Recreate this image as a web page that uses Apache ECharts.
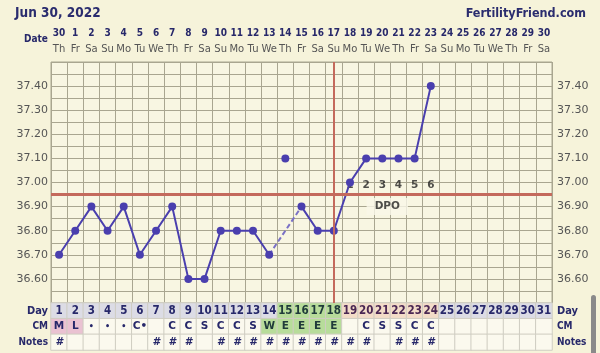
<!DOCTYPE html>
<html>
<head>
<meta charset="utf-8">
<script src="https://cdn.jsdelivr.net/npm/echarts@6/dist/echarts.min.js"></script>
<style>
html,body{margin:0;padding:0;background:#f6f3da;}
#chart{width:600px;height:353px;}
</style>
</head>
<body>
<div id="chart"></div>
<script>
// ---------- data ----------
const dayNumbers = ['1','2','3','4','5','6','7','8','9','10','11','12','13','14','15','16','17','18','19','20','21','22','23','24','25','26','27','28','29','30','31'];
const dateLabels = ['30','1','2','3','4','5','6','7','8','9','10','11','12','13','14','15','16','17','18','19','20','21','22','23','24','25','26','27','28','29','30'];
const weekdayLabels = ['Th','Fr','Sa','Su','Mo','Tu','We','Th','Fr','Sa','Su','Mo','Tu','We','Th','Fr','Sa','Su','Mo','Tu','We','Th','Fr','Sa','Su','Mo','Tu','We','Th','Fr','Sa'];
const temperatures = [36.70,36.80,36.90,36.80,36.90,36.70,36.80,36.90,36.60,36.60,36.80,36.80,36.80,36.70,null,36.90,36.80,36.80,37.00,37.10,37.10,37.10,37.10,37.40,null,null,null,null,null,null,null];
const discardedDay = '15';
const discardedTemp = 37.10;
const bridgeDays = ['14','16'];
const coverline = 36.95;
const ovulationDay = '18';
const dpoDays = ['19','20','21','22','23','24'];
const dpoLabels = ['1','2','3','4','5','6'];
const dpoLabelTemp = 36.99;
const dpoTitleDay = '21';
const dpoTitleTemp = 36.90;
const yTickLabels = ['36.60','36.70','36.80','36.90','37.00','37.10','37.20','37.30','37.40'];
const cmCodes = ['M','L','•','•','•','C•','','C','C','S','C','C','S','W','E','E','E','E','','C','S','S','C','C','','','','','','',''];
const notes = ['#','','','','','','#','#','#','','#','#','#','#','#','#','#','#','#','#','','#','#','#','','','','','','',''];
const menstrualDays = ['1','2'];
const fertileSignDays = ['14','15','16','17','18'];
const fertileWindowDays = ['15','16','17','18'];
const lutealDays = ['19','20','21','22','23','24'];
const rowNames = ['Notes','CM','Day'];

// ---------- styles ----------
const NAVY = '#27286a';
const GRID = '#a9a690';
const RED = '#c46a5c';
const PURPLE = '#4a3fae';

const bridgeData = dayNumbers.map((d, i) => bridgeDays.includes(d) ? temperatures[i] : null);

const tableData = [];
dayNumbers.forEach((d, i) => {
  let dayBg = '#dcdce5', dayColor = NAVY;
  if (fertileWindowDays.includes(d)) { dayBg = '#b7dc9a'; dayColor = '#1f3a3a'; }
  else if (lutealDays.includes(d)) { dayBg = '#f3dcc8'; dayColor = '#4a2753'; }
  tableData.push({value:[i,2,1], itemStyle:{color:dayBg},
    label:{show:true, formatter:d, color:dayColor, fontFamily:'DejaVu Sans Condensed', fontWeight:'bold', fontSize:11.5}});
  let cmBg = '#fbf9ee', cmColor = NAVY;
  if (menstrualDays.includes(d)) { cmBg = '#eac2d2'; }
  else if (fertileSignDays.includes(d)) { cmBg = '#b7dc9a'; cmColor = '#1f3a3a'; }
  const code = cmCodes[i];
  tableData.push({value:[i,1,1], itemStyle:{color:cmBg},
    label:{show:true, formatter:code, color:cmColor, fontFamily:'DejaVu Sans', fontWeight:'bold',
      fontSize: code === '•' ? 8 : 10.5}});
  tableData.push({value:[i,0,1], itemStyle:{color:'#fbf9ee'},
    label:{show:true, formatter:notes[i], color:NAVY, fontFamily:'DejaVu Sans', fontWeight:'bold', fontStyle:'italic', fontSize:10.5}});
});

const yLabelFmt = v => {
  const s = (Math.round(v*100)/100).toFixed(2);
  return yTickLabels.includes(s) ? s : '';
};
const rowRich = {
  d:{fontFamily:'DejaVu Sans Condensed', fontWeight:'bold', fontSize:11, color:NAVY},
  s:{fontFamily:'DejaVu Sans Condensed', fontWeight:'bold', fontSize:10, color:NAVY}
};
const rowFmt = v => v === 'Day' ? '{d|Day}' : '{s|' + v + '}';

const chart = echarts.init(document.getElementById('chart'), null, {renderer:'canvas'});
chart.setOption({
  backgroundColor:'#f6f3da',
  animation:false,
  title:[
    {text:'Jun 30, 2022', left:10, top:1, textStyle:{fontFamily:'DejaVu Sans Condensed', fontWeight:'bold', fontSize:13.5, color:'#2a2c6e'}},
    {text:'FertilityFriend.com', right:9, top:2, textStyle:{fontFamily:'DejaVu Sans Condensed', fontWeight:'bold', fontSize:12.5, color:'#2a2c6e'}},
    {text:'Date', left:19, top:29, textStyle:{fontFamily:'DejaVu Sans Condensed', fontWeight:'bold', fontSize:10, color:NAVY}}
  ],
  grid:[
    {left:51, right:48, top:62, height:241, show:true, backgroundColor:'#f8f6e2', borderColor:GRID, borderWidth:1},
    {left:51, right:48, top:303, height:47, show:false}
  ],
  xAxis:[
    {type:'category', gridIndex:0, data:dayNumbers, boundaryGap:true,
      axisLine:{show:false}, axisTick:{show:false}, axisLabel:{show:false},
      splitLine:{show:true, interval:0, lineStyle:{color:GRID, width:1}}},
    {type:'category', gridIndex:0, position:'top', data:dayNumbers, boundaryGap:true,
      axisLine:{show:false}, axisTick:{show:false}, splitLine:{show:false},
      axisLabel:{show:true, interval:0, margin:5,
        formatter:(v, i) => '{a|' + dateLabels[i] + '}\n{b|' + weekdayLabels[i] + '}',
        rich:{
          a:{fontFamily:'DejaVu Sans Condensed', fontWeight:'bold', fontSize:10, color:NAVY, lineHeight:16},
          b:{fontFamily:'DejaVu Sans', fontSize:10, color:'#555', lineHeight:16}
        }}},
    {type:'category', gridIndex:1, data:dayNumbers, boundaryGap:true,
      axisLine:{show:false}, axisTick:{show:false}, axisLabel:{show:false}, splitLine:{show:false}}
  ],
  yAxis:[
    {type:'value', gridIndex:0, min:36.5, max:37.5, interval:0.05,
      axisLine:{show:false}, axisTick:{show:false},
      splitLine:{show:true, lineStyle:{color:GRID, width:1}},
      axisLabel:{margin:3, formatter:yLabelFmt, fontFamily:'DejaVu Sans', fontSize:11, color:'#555'}},
    {type:'value', gridIndex:0, position:'right', min:36.5, max:37.5, interval:0.05,
      axisLine:{show:false}, axisTick:{show:false}, splitLine:{show:false},
      axisLabel:{margin:5, formatter:yLabelFmt, fontFamily:'DejaVu Sans', fontSize:11, color:'#555'}},
    {type:'category', gridIndex:1, data:rowNames,
      axisLine:{show:false}, axisTick:{show:false}, splitLine:{show:false},
      axisLabel:{margin:3, formatter:rowFmt, rich:rowRich}},
    {type:'category', gridIndex:1, position:'right', data:rowNames,
      axisLine:{show:false}, axisTick:{show:false}, splitLine:{show:false},
      axisLabel:{margin:5, formatter:rowFmt, rich:rowRich}}
  ],
  series:[
    {type:'line', xAxisIndex:0, yAxisIndex:0, data:[], silent:true, z:1,
      markLine:{silent:true, symbol:['none','none'], label:{show:false},
        data:[
          {yAxis:coverline, lineStyle:{color:RED, width:3, type:'solid'}},
          {xAxis:dayNumbers.indexOf(ovulationDay), lineStyle:{color:RED, width:2, type:'solid'}}
        ]}},
    {type:'scatter', xAxisIndex:0, yAxisIndex:0, symbolSize:0, z:2, silent:true,
      data:dpoDays.map((d, i) => ({value:[d, dpoLabelTemp], name:dpoLabels[i]})),
      label:{show:true, position:'inside', formatter:p => p.name,
        fontFamily:'DejaVu Sans', fontWeight:'bold', fontSize:10.5, color:'#222'}},
    {type:'scatter', xAxisIndex:0, yAxisIndex:0, symbolSize:0, z:2, silent:true,
      data:[{value:[dpoTitleDay, dpoTitleTemp], name:'DPO'}],
      label:{show:true, position:'inside', offset:[5,0], formatter:p => p.name,
        fontFamily:'DejaVu Sans', fontWeight:'bold', fontSize:10.5, color:'#222',
        backgroundColor:'#f9f7e8', padding:[3,8]}},
    {type:'line', xAxisIndex:0, yAxisIndex:0, data:bridgeData, connectNulls:true, showSymbol:false, z:3,
      lineStyle:{color:'#7a71c6', width:2, type:[5,3]}, silent:true},
    {type:'line', xAxisIndex:0, yAxisIndex:0, data:temperatures, connectNulls:false, z:4,
      symbol:'circle', symbolSize:8, showAllSymbol:true,
      itemStyle:{color:PURPLE}, lineStyle:{color:PURPLE, width:2}, silent:true},
    {type:'scatter', xAxisIndex:0, yAxisIndex:0, data:[[discardedDay, discardedTemp]], z:4,
      symbol:'circle', symbolSize:8, itemStyle:{color:PURPLE, opacity:1}, silent:true},
    {type:'heatmap', xAxisIndex:2, yAxisIndex:2, data:tableData, silent:true,
      itemStyle:{borderColor:'#cfcdc2', borderWidth:1},
      emphasis:{disabled:true}}
  ],
  graphic:[
    {type:'rect', shape:{x:591, y:295, width:5, height:62, r:2.5}, style:{fill:'#8a8a8a'}, silent:true}
  ]
});
</script>
</body>
</html>
